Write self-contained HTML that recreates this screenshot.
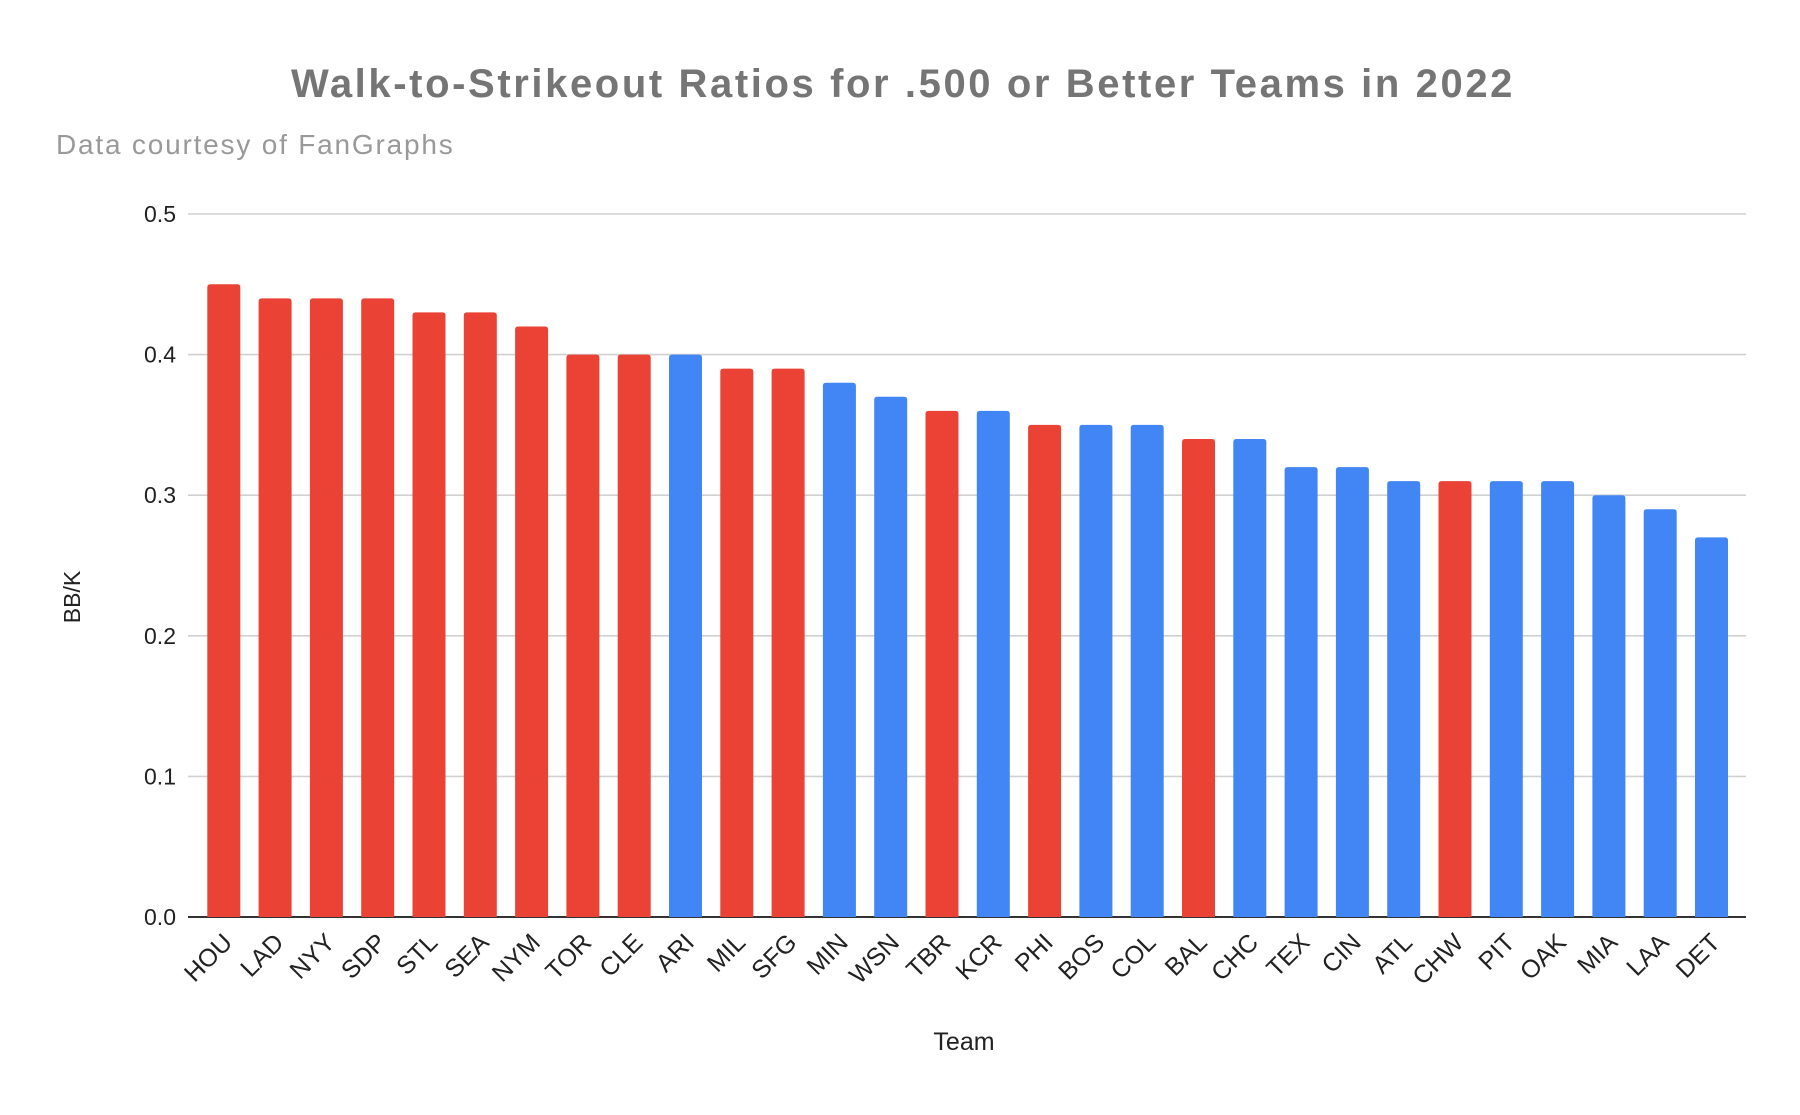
<!DOCTYPE html>
<html><head><meta charset="utf-8"><style>
html,body{margin:0;padding:0;background:#fff;}
svg{display:block;font-family:"Liberation Sans",Arial,sans-serif;}
</style></head><body>
<svg id="chart" width="1800" height="1115" viewBox="0 0 1800 1115">
<text x="903" y="97" text-anchor="middle" font-size="40" font-weight="bold" fill="#757575" letter-spacing="2.6">Walk-to-Strikeout Ratios for .500 or Better Teams in 2022</text>
<text x="56" y="154" font-size="28" fill="#999999" letter-spacing="1.8">Data courtesy of FanGraphs</text>
<g id="grid"></g>
<g id="bars"></g>
<g id="xlabels"></g>
<text transform="translate(80,597) rotate(-90)" text-anchor="middle" font-size="23" fill="#222">BB/K</text>
<text x="964" y="1050" text-anchor="middle" font-size="25" fill="#222">Team</text>
</svg>
<script>
const teams=["HOU","LAD","NYY","SDP","STL","SEA","NYM","TOR","CLE","ARI","MIL","SFG","MIN","WSN","TBR","KCR","PHI","BOS","COL","BAL","CHC","TEX","CIN","ATL","CHW","PIT","OAK","MIA","LAA","DET"];
const values=[0.45,0.44,0.44,0.44,0.43,0.43,0.42,0.40,0.40,0.40,0.39,0.39,0.38,0.37,0.36,0.36,0.35,0.35,0.35,0.34,0.34,0.32,0.32,0.31,0.31,0.31,0.31,0.30,0.29,0.27];
const winners=[1,1,1,1,1,1,1,1,1,0,1,1,0,0,1,0,1,0,0,1,0,0,0,0,1,0,0,0,0,0];
const yTicks=[0,0.1,0.2,0.3,0.4,0.5];
const yTickLabels=["0.0","0.1","0.2","0.3","0.4","0.5"];
const NS="http://www.w3.org/2000/svg";
const plotL=188,plotR=1746,bandL=198.15,bandR=1737.15,y0=917,y1=214,yMax=0.5;
const y=v=>y0-(v/yMax)*(y0-y1);
const bw=(bandR-bandL)/teams.length;
const x=i=>bandL+bw*(i+0.5);
const grid=document.getElementById('grid'),bars=document.getElementById('bars'),xl=document.getElementById('xlabels');
yTicks.forEach((t,i)=>{
  const l=document.createElementNS(NS,'line');
  l.setAttribute('x1',plotL);l.setAttribute('x2',plotR);l.setAttribute('y1',y(t));l.setAttribute('y2',y(t));
  l.setAttribute('stroke',t===0?'#333':'#d0d0d0');l.setAttribute('stroke-width',t===0?2:1.6);
  
  
  grid.appendChild(l);
  const tx=document.createElementNS(NS,'text');
  tx.setAttribute('x',176);tx.setAttribute('y',y(t)+8);tx.setAttribute('text-anchor','end');
  tx.setAttribute('font-size','23');tx.setAttribute('fill','#222');tx.textContent=yTickLabels[i];
  
  
  grid.appendChild(tx);
});
const barW=33;
teams.forEach((t,i)=>{
  const cx=x(i),top=y(values[i]);
  const p=document.createElementNS(NS,'path');
  const l=cx-barW/2,r=cx+barW/2,rr=3;
  p.setAttribute('d',`M${l},${y0}V${top+rr}Q${l},${top} ${l+rr},${top}H${r-rr}Q${r},${top} ${r},${top+rr}V${y0}Z`);
  p.setAttribute('fill',winners[i]?'#ea4335':'#4285f4');
  
  
  bars.appendChild(p);
  const tx=document.createElementNS(NS,'text');
  tx.setAttribute('transform',`translate(${cx+10},${y0+27}) rotate(-45)`);
  tx.setAttribute('text-anchor','end');tx.setAttribute('font-size','25');tx.setAttribute('fill','#222');
  tx.textContent=t;
  
  
  xl.appendChild(tx);
});
</script>
</body></html>
